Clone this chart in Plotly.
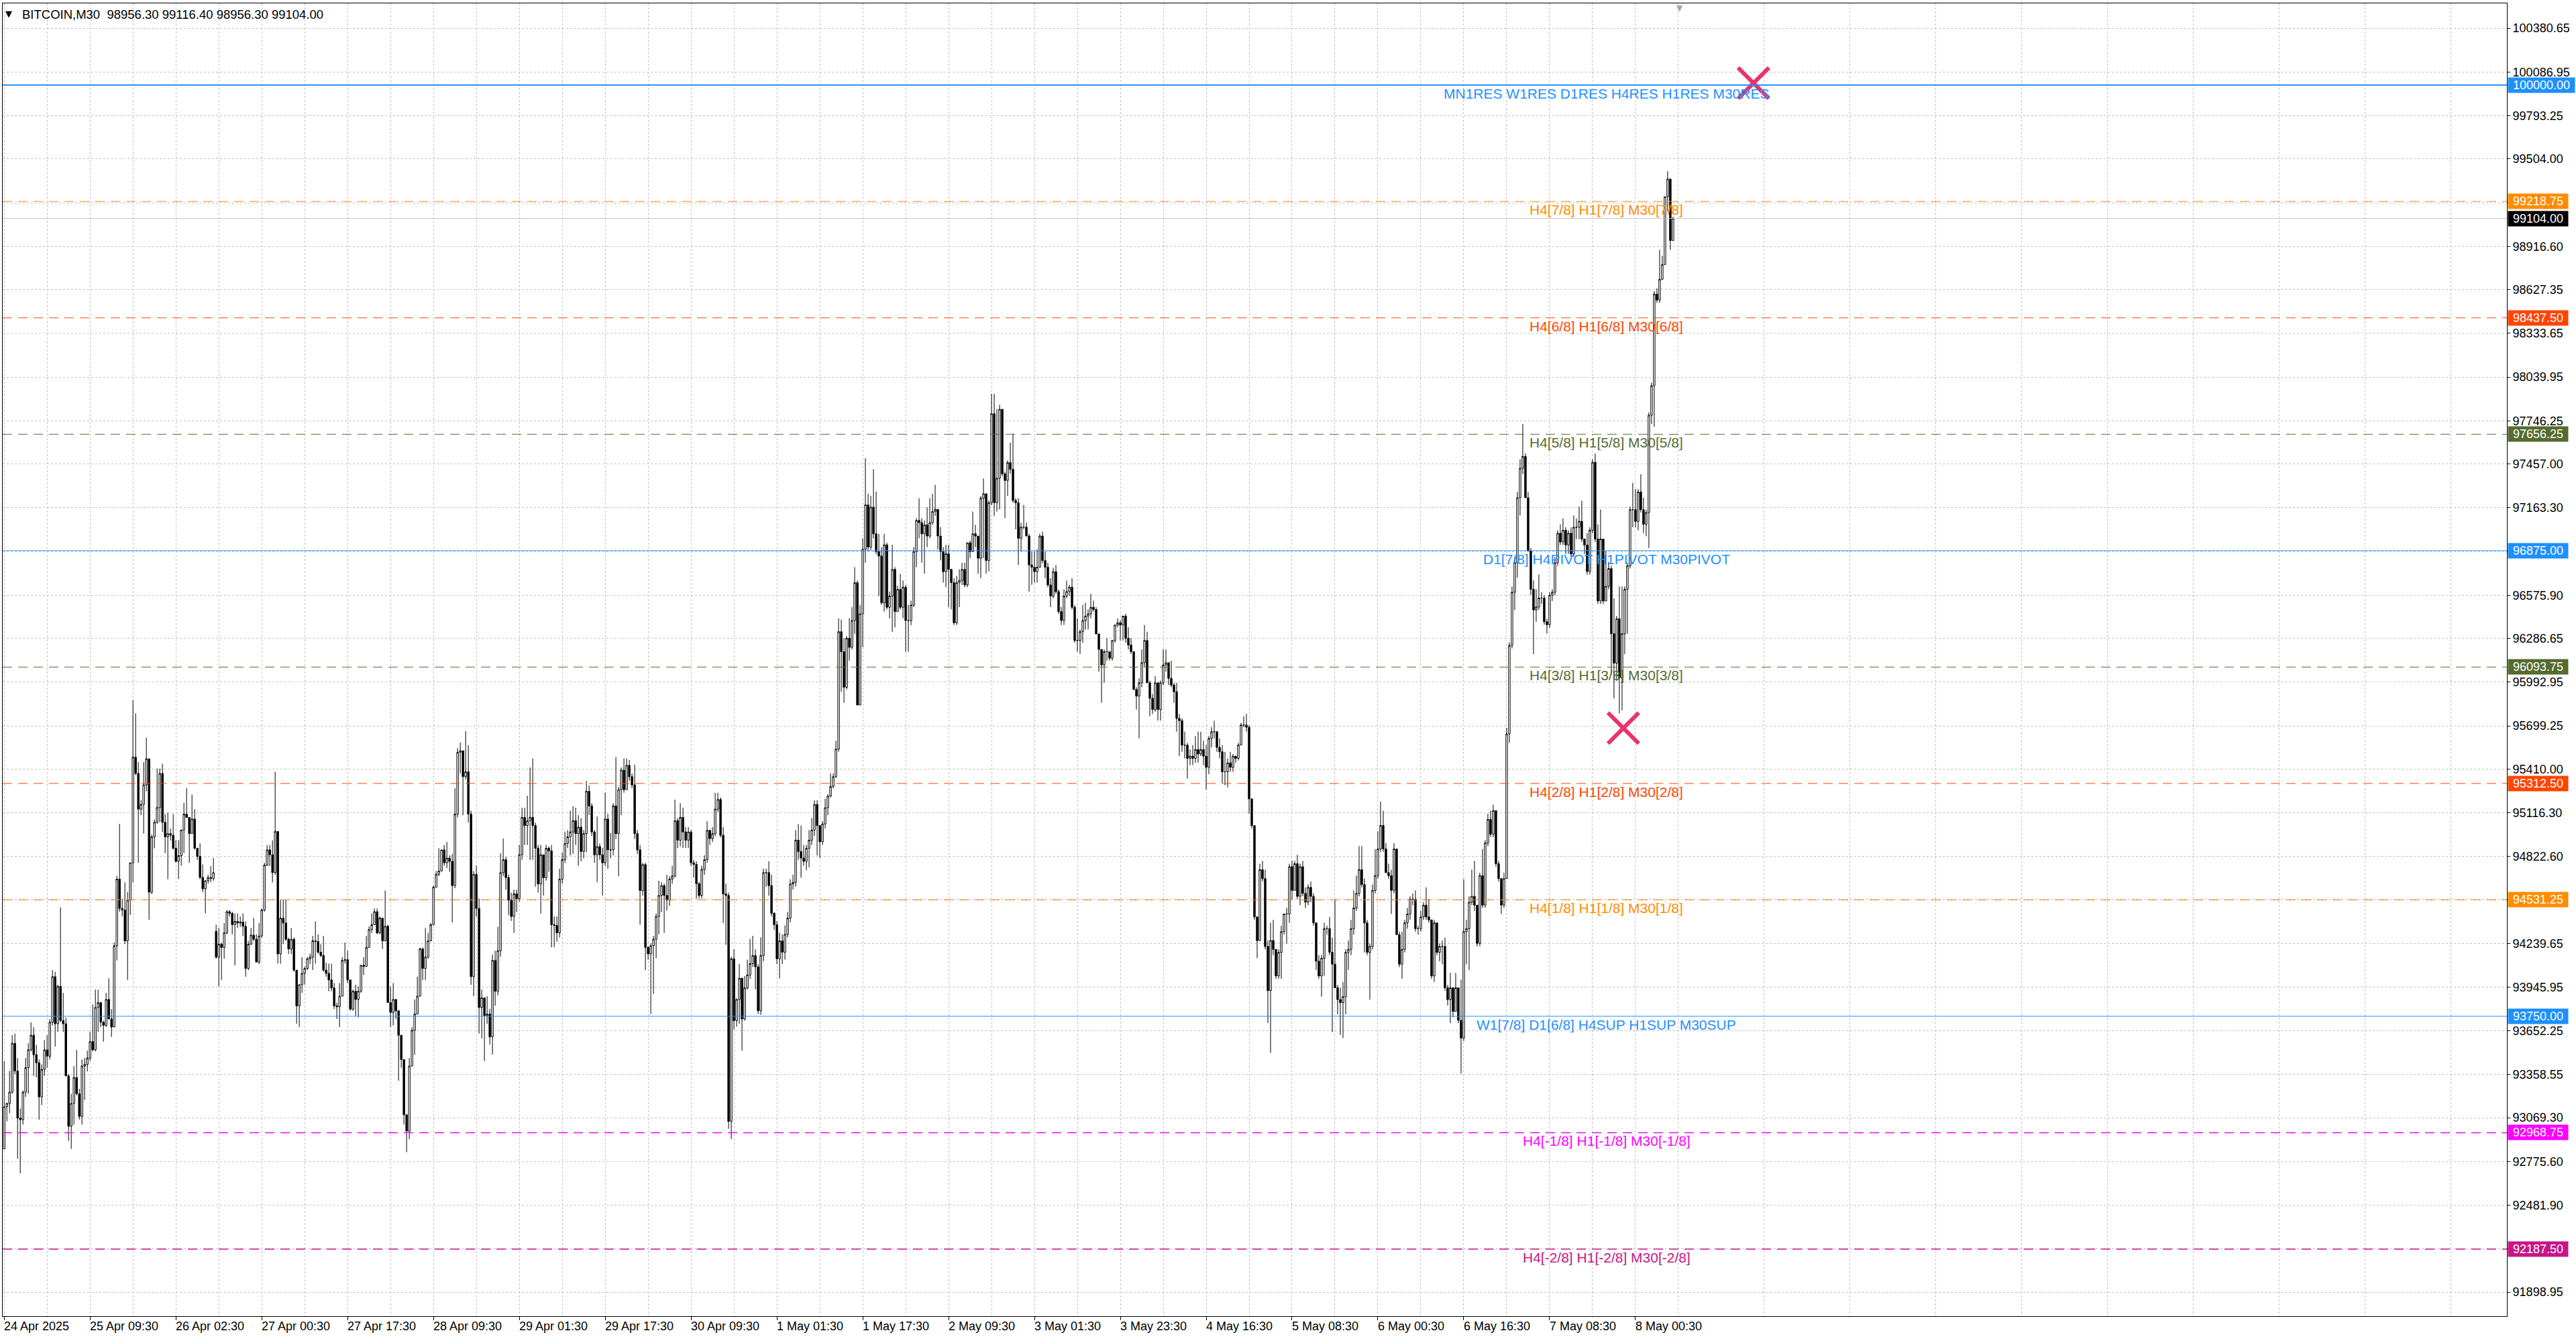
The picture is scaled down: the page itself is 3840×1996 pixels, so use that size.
import plotly.graph_objects as go

# ---------------- data (BITCOIN, M30) ----------------
first_open = 92860
gap_opens = {79: 94321}

closes = [
    93143, 93165, 93241, 93569, 93383, 93067, 93056, 93241, 93405, 93525,
    93623, 93492, 93438, 93209, 93394, 93525, 93482, 93710, 94016, 93700,
    93951, 93722, 93700, 93350, 93012, 93165, 93339, 93230, 93078, 93416,
    93427, 93470, 93580, 93525, 93809, 93842, 93710, 93689, 93863, 93732,
    93678, 94223, 94671, 94474, 94463, 94256, 94529, 94780, 95489, 95380,
    95140, 95172, 95303, 95478, 94583, 94954, 95052, 95151, 95380, 95052,
    94954, 94976, 94965, 94878, 94790, 94828, 95000, 95107, 95085, 94976,
    95074, 94878, 94823, 94682, 94605, 94660, 94681, 94675, 94714,
    94147, 94234, 94212, 94310, 94452, 94441, 94365, 94387, 94376, 94383,
    94354, 94071, 94234, 94295, 94267, 94114, 94289, 94463, 94765, 94867,
    94834, 94714, 94991, 94169, 94409, 94376, 94267, 94202, 94267, 94060,
    93820, 93962, 94038, 94071, 94136, 94147, 94256, 94252, 94180, 94158,
    94060, 94038, 93994, 93940, 93820, 93814, 93885, 94125, 94130, 93994,
    93798, 93918, 93863, 93918, 94092, 94085, 94212, 94332, 94365, 94452,
    94310, 94409, 94256, 94354, 93842, 93776, 93863, 93787, 93623, 93460,
    93089, 92980, 93416, 93656, 93765, 93885, 94202, 94071, 94147, 94256,
    # 26 Apr - 1 May
    94365, 94616, 94703, 94725, 94867, 94780, 94812, 94790, 94627, 95107,
    95522, 95532, 95358, 95391, 95107, 94016, 94703, 94474, 93809, 93874,
    93754, 93765, 93612, 94125, 93918, 94190, 94714, 94801, 94681, 94529,
    94420, 94572, 94540, 94834, 95085, 95030, 95063, 95085, 95030, 94878,
    94638, 94834, 94680, 94878, 94860, 94365, 94360, 94310, 94670, 94801,
    94910, 94954, 94987, 95063, 94976, 95020, 94856, 94976, 95260, 95162,
    94987, 94834, 94889, 94834, 94780, 95074, 94867, 94867, 95162, 94976,
    95271, 95402, 95271, 95434, 95358, 95303, 94976, 94867, 94594, 94768,
    94212, 94169, 94223, 94267, 94420, 94561, 94627, 94561, 94529, 94671,
    94692, 95063, 94932, 95085, 94987, 94932, 94987, 94780, 94769, 94640,
    94560, 94736, 94801, 94998, 94943, 94976, 95140, 95205, 94965, 94572,
    94561, 93045, 94136, 93721, 93863, 94005, 93732, 93940, 94027, 94103,
    94158, 94082, 93787, 94158, 94714, 94714, 94627, 94441, 94365, 94136,
    94256, 94180, 94300, 94409, 94638, 94649, 94932, 94856, 94812, 94790,
    94878, 94932, 95000, 95172, 95030, 94921, 95041, 95150, 95227, 95292,
    95358, 95543,
    # 1 May - 4 May
    96331, 96197, 95958, 96287, 96226, 96406, 96660, 95839, 96451, 96884,
    97182, 96899, 97167, 96988, 96869, 96839, 96525, 96914, 96495, 96570,
    96749, 96466, 96615, 96495, 96630, 96406, 96406, 96510, 96869, 97078,
    97063, 96988, 97048, 96973, 97063, 97137, 97152, 96973, 96869, 96734,
    96854, 96749, 96660, 96391, 96660, 96675, 96749, 96645, 96928, 96869,
    96988, 96973, 96824, 97227, 97257, 96809, 97197, 97794, 97197, 97361,
    97824, 97391, 97346, 97466, 97421, 97212, 97197, 96958, 97033, 97033,
    96973, 96779, 96764, 96734, 96764, 96973, 96809, 96764, 96645, 96570,
    96734, 96600, 96466, 96406, 96570, 96600, 96630, 96495, 96272, 96272,
    96331, 96406, 96436, 96451, 96495, 96480, 96316, 96212, 96108, 96197,
    96197, 96153, 96272, 96376, 96391, 96376, 96436, 96287, 96242, 96197,
    95943, 95899, 95988, 96123, 96272, 95988, 95884, 95809, 95988, 95809,
    95988, 96108, 96123, 96018, 95973, 95928, 95749, 95734, 95570, 95570,
    95481, 95496, 95481, 95540, 95510, 95540, 95496, 95421, 95615, 95660,
    95660, 95555, 95525, 95391, 95391, 95451, 95421, 95496, 95481, 95570,
    95705, 95705, 95690,
    # 4 May - 8 May
    95209, 95030, 94417, 94258, 94734, 94674, 94219, 93922, 94259, 94199,
    94021, 94179, 94318, 94437, 94437, 94754, 94595, 94774, 94555, 94754,
    94575, 94516, 94615, 94555, 94377, 94120, 94021, 94139, 94338, 94338,
    94180, 94100, 93941, 93862, 93842, 93882, 94179, 94199, 94338, 94477,
    94575, 94734, 94634, 94377, 94179, 94219, 94595, 94694, 94873, 95031,
    94873, 94714, 94694, 94595, 94873, 94298, 94100, 94199, 94377, 94437,
    94536, 94536, 94338, 94338, 94417, 94496, 94417, 94397, 94021, 94377,
    94179, 94219, 94219, 93941, 93862, 93941, 93783, 93941, 93723, 93604,
    94318, 94338, 94516, 94555, 94496, 94239, 94694, 94496, 94913, 95071,
    94972, 95130, 94774, 94674, 94496, 94674, 95645, 96239, 96596, 96794,
    97230, 97428, 97507, 97230, 96873, 96616, 96477, 96497, 96557, 96557,
    96398, 96378, 96576, 96596, 96794, 96992, 96933, 97012, 96913, 96992,
    96853, 97032, 97032, 97072, 96953, 96913, 96735, 97012, 97468, 96953,
    96537, 96953, 96537, 96636, 96755, 96318, 96120, 96418, 96021, 96318,
    96616, 96774, 97150, 97150, 97071, 97269, 97150, 97052, 97131, 97784,
    97982, 98597, 98557, 98696, 98795, 99250, 99369, 98956.30, 99104.00,
]

highs = [
    93449, 93170, 93383, 93623, 93634, 93470, 93132, 93252, 93470, 93569,
    93710, 93678, 93558, 93460, 93427, 93590, 93623, 93730, 94060, 94049,
    93962, 94481, 93907, 93740, 93361, 93230, 93416, 93525, 93263, 93460,
    93470, 93520, 93645, 93830, 93929, 93929, 93842, 93721, 93907, 94005,
    93798, 94245, 94692, 95041, 94540, 94649, 94583, 94780, 95871, 95783,
    95456, 95200, 95456, 95620, 95478, 94970, 95070, 95413, 95413, 95445,
    95107, 95118, 95010, 95107, 94932, 94932, 95000, 95183, 95282, 95085,
    95238, 95140, 94880, 94910, 94769, 94660, 94700, 94758, 94812,
    94365, 94343, 94245, 94376, 94463, 94463, 94452, 94441, 94441, 94420,
    94441, 94387, 94256, 94343, 94409, 94300, 94376, 94474, 94780, 94900,
    94900, 94932, 95391, 94878, 94529, 94529, 94529, 94278, 94343, 94278,
    94060, 93962, 94147, 94082, 94147, 94170, 94289, 94387, 94300, 94234,
    94289, 94110, 94103, 94103, 93973, 93842, 93973, 94147, 94245, 94190,
    93994, 93930, 93962, 93951, 94092, 94147, 94289, 94354, 94441, 94474,
    94474, 94420, 94409, 94594, 94365, 93950, 93973, 93863, 93787, 93623,
    93460, 93089, 93470, 93678, 93863, 94016, 94212, 94212, 94343, 94310,
    94376, 94627, 94725, 94878, 94867, 94900, 94920, 94830, 94840, 95280,
    95550, 95587, 95420, 95663, 95570, 95130, 94725, 94760, 94540, 93929,
    93874, 93885, 93800, 94165, 94190, 94350, 94845, 94943, 94820, 94700,
    94580, 94600, 94600, 94900, 95150, 95150, 95230, 95420, 95480, 95050,
    94900, 94900, 94760, 94900, 94890, 94900, 94420, 94420, 94740, 94850,
    94990, 95000, 95130, 95160, 95150, 95100, 95080, 95000, 95330, 95300,
    95180, 95000, 95090, 94910, 94880, 95250, 95110, 94980, 95180, 95490,
    95290, 95420, 95480, 95480, 95470, 95380, 95440, 95000, 94900, 94780,
    94780, 94220, 94240, 94290, 94440, 94660, 94650, 94640, 94700, 94690,
    94760, 95204, 95080, 95180, 95150, 95020, 95020, 95000, 94800, 94790,
    94650, 94760, 94830, 95060, 95000, 95020, 95250, 95250, 95220, 95020,
    94640, 94580, 94150, 94200, 93870, 94100, 94010, 94020, 94130, 94270,
    94290, 94200, 94100, 94280, 94740, 94740, 94790, 94700, 94450, 94390,
    94310, 94300, 94360, 94450, 94670, 94700, 95000, 95040, 95030, 94900,
    94900, 95000, 95080, 95200, 95200, 95000, 95060, 95210, 95240, 95380,
    95380, 95600,
    96421, 96412, 96287, 96302, 96421, 96496, 96764, 96675, 96511, 96958,
    97495, 97257, 97242, 97421, 97272, 96988, 96898, 96988, 96928, 96600,
    96914, 96764, 96640, 96720, 96675, 96645, 96511, 96540, 96899, 97093,
    97227, 97093, 97078, 97167, 97227, 97257, 97317, 97137, 97033, 96899,
    96914, 96914, 96750, 96690, 96705, 96750, 96794, 96794, 96928, 96943,
    97137, 97048, 96943, 97242, 97360, 97018, 97212, 97928, 97928, 97824,
    97854, 97764, 97406, 97481, 97600, 97660, 97227, 97227, 97063, 97182,
    97063, 96988, 96869, 96869, 96884, 96988, 97003, 96869, 96794, 96690,
    96760, 96779, 96615, 96496, 96615, 96675, 96645, 96690, 96510, 96421,
    96346, 96511, 96526, 96481, 96585, 96540, 96496, 96316, 96212, 96212,
    96287, 96197, 96272, 96376, 96421, 96406, 96436, 96451, 96361, 96287,
    96197, 95958, 96018, 96212, 96376, 96331, 96003, 95913, 96033, 95988,
    96003, 96212, 96212, 96123, 96137, 95988, 95988, 95779, 95749, 95660,
    95585, 95540, 95570, 95630, 95660, 95660, 95600, 95570, 95630, 95690,
    95734, 95660, 95615, 95570, 95525, 95481, 95525, 95510, 95496, 95585,
    95720, 95764, 95779,
    95704, 95209, 95030, 94417, 94774, 94793, 94734, 94258, 94378, 94397,
    94180, 94199, 94358, 94437, 94477, 94774, 94793, 94793, 94833, 94774,
    94793, 94615, 94635, 94655, 94575, 94377, 94160, 94160, 94378, 94358,
    94417, 94278, 94536, 93961, 93941, 93981, 94199, 94259, 94397, 94595,
    94694, 94892, 94892, 94674, 94397, 94239, 94635, 94872, 94991, 95190,
    95130, 94912, 94774, 94734, 94912, 94833, 94318, 94318, 94397, 94477,
    94555, 94575, 94595, 94358, 94457, 94516, 94615, 94536, 94397, 94397,
    94377, 94239, 94258, 94278, 93961, 94041, 93882, 94041, 93941, 93995,
    94670, 94398, 94555, 94734, 94793, 94496, 94714, 94872, 94932, 95110,
    95130, 95170, 95051, 94793, 94674, 94714, 95685, 96259, 96635, 96833,
    97269, 97488, 97725, 97527, 97269, 96893, 96675, 96616, 96715, 96596,
    96576, 96418, 96596, 96616, 96833, 97012, 97051, 97091, 97032, 97012,
    97032, 97111, 97091, 97170, 97210, 96952, 96992, 97032, 97488, 97527,
    97051, 97151, 96953, 96873, 96800, 96774, 96556, 96437, 96635, 96635,
    96635, 96794, 97170, 97329, 97289, 97289, 97388, 97230, 97151, 97804,
    98002, 98617, 98636, 98894, 98854, 99250, 99421, 99369, 99116.40,
]

lows = [
    92860, 93045, 93100, 93230, 93361, 92794, 92696, 93023, 93209, 93230,
    93514, 93350, 93340, 93056, 93154, 93350, 93405, 93460, 93689, 93547,
    93645, 93711, 93645, 93350, 92914, 92860, 93023, 93220, 93056, 93023,
    93190, 93380, 93450, 93514, 93514, 93645, 93678, 93580, 93678, 93732,
    93612, 93689, 94125, 94452, 94420, 94234, 93994, 94430, 94649, 95369,
    94780, 95100, 94976, 95260, 94398, 94570, 94878, 95041, 95052, 94987,
    94845, 94670, 94930, 94870, 94780, 94670, 94760, 94845, 95080, 94780,
    94976, 94870, 94800, 94670, 94583, 94441, 94640, 94649, 94660,
    94136, 93951, 93994, 94136, 94300, 94420, 94300, 94092, 94343, 94350,
    94289, 94016, 94060, 94230, 94256, 94114, 94100, 94278, 94452, 94758,
    94758, 94649, 94700, 94103, 94103, 94234, 94256, 94169, 94169, 94049,
    93700, 93678, 93907, 93962, 94060, 94100, 94060, 94103, 94169, 94147,
    94049, 94016, 93918, 93918, 93798, 93732, 93678, 93885, 94103, 93973,
    93787, 93787, 93754, 93743, 93907, 94027, 94082, 94212, 94310, 94365,
    94300, 94300, 94202, 94343, 93842, 93678, 93689, 93732, 93318, 93405,
    93023, 92838, 92925, 93416, 93492, 93765, 93885, 93994, 93994, 94136,
    94256, 94365, 94616, 94690, 94725, 94760, 94745, 94720, 94380, 94610,
    95085, 95380, 95100, 95340, 95050, 93961, 93885, 94420, 93634, 93601,
    93449, 93700, 93560, 93493, 93820, 93890, 94150, 94690, 94600, 94430,
    94390, 94310, 94450, 94520, 94800, 94900, 94900, 94800, 94800, 94620,
    94580, 94440, 94560, 94660, 94720, 94213, 94213, 94250, 94280, 94640,
    94780, 94880, 94830, 94840, 94900, 94760, 94790, 94810, 94850, 95100,
    94960, 94780, 94650, 94800, 94560, 94760, 94740, 94810, 94830, 94940,
    94690, 95100, 95250, 95400, 95330, 95280, 94940, 94840, 94365, 94560,
    94060, 94130, 93765, 93900, 94140, 94300, 94450, 94310, 94460, 94490,
    94640, 94680, 94880, 94890, 94880, 94880, 94880, 94760, 94680, 94540,
    94540, 94540, 94700, 94780, 94900, 94920, 94960, 95120, 94950, 94376,
    94230, 92995, 92926, 93660, 93680, 93700, 93520, 93720, 93930, 94000,
    94080, 93930, 93765, 93760, 94120, 94620, 94560, 94420, 94330, 94100,
    94005, 94100, 94130, 94280, 94380, 94600, 94620, 94800, 94680, 94760,
    94730, 94750, 94900, 94960, 94830, 94813, 94900, 95010, 95100, 95220,
    95280, 95350,
    95526, 95928, 95854, 95943, 96137, 96212, 96317, 95839, 95839, 96227,
    96794, 96870, 96880, 96958, 96850, 96570, 96510, 96466, 96480, 96420,
    96331, 96361, 96540, 96480, 96421, 96197, 96197, 96375, 96496, 96764,
    96958, 96794, 96720, 96899, 96958, 97048, 97108, 96884, 96809, 96660,
    96630, 96495, 96481, 96376, 96376, 96496, 96645, 96630, 96630, 96824,
    96899, 96899, 96720, 96690, 96824, 96720, 96735, 97180, 97107, 97137,
    97152, 97376, 97093, 97242, 97391, 97197, 97018, 96779, 96869, 97018,
    96973, 96600, 96645, 96660, 96660, 96764, 96790, 96690, 96630, 96496,
    96555, 96585, 96451, 96376, 96376, 96555, 96570, 96481, 96257, 96197,
    96182, 96257, 96346, 96346, 96421, 96466, 96316, 96063, 95854, 95988,
    96137, 96137, 96137, 96257, 96361, 96272, 96272, 96257, 96212, 96182,
    95943, 95809, 95615, 95958, 96092, 95988, 95764, 95779, 95794, 95735,
    95735, 95973, 96063, 95973, 95958, 95854, 95660, 95496, 95525, 95481,
    95346, 95436, 95436, 95451, 95451, 95496, 95436, 95271, 95376, 95555,
    95615, 95525, 95481, 95316, 95301, 95286, 95391, 95391, 95451, 95466,
    95570, 95690, 95660,
    95110, 95011, 94397, 94140, 94258, 94655, 94199, 93704, 93505, 94160,
    94001, 94001, 94001, 94298, 94239, 94378, 94536, 94595, 94536, 94496,
    94555, 94477, 94496, 94516, 94358, 94061, 94001, 93882, 94021, 94298,
    94160, 93644, 93941, 93763, 93624, 93604, 93763, 94061, 94160, 94298,
    94457, 94555, 94615, 94179, 94160, 93862, 94199, 94575, 94674, 94853,
    94853, 94714, 94674, 94437, 94575, 94298, 94080, 94001, 94179, 94338,
    94397, 94496, 94318, 94298, 94318, 94397, 94397, 94378, 94001, 93981,
    94160, 94120, 94100, 93922, 93823, 93704, 93743, 93783, 93704, 93367,
    93584, 94100, 94061, 94496, 94457, 94219, 94219, 94477, 94477, 94892,
    94952, 94952, 94754, 94655, 94437, 94477, 94674, 95586, 96219, 96477,
    96694, 97111, 97389, 97230, 96873, 96576, 96180, 96398, 96477, 96517,
    96378, 96318, 96358, 96537, 96576, 96774, 96913, 96913, 96853, 96853,
    96834, 96834, 96952, 96952, 96933, 96853, 96714, 96714, 96992, 96933,
    96517, 96517, 96517, 96616, 96616, 96041, 95883, 96001, 95783, 95803,
    96180, 96318, 96755, 97032, 97032, 97012, 97131, 96992, 96972, 96893,
    97725, 97705, 98538, 98538, 98696, 98795, 99151, 98894, 98956.30,
]

label_bars = [0, 32, 64, 96, 128, 160, 192, 224, 256, 288,
              320, 352, 384, 416, 448, 480, 512, 544, 576, 608]
time_labels = ["24 Apr 2025", "25 Apr 09:30", "26 Apr 02:30", "27 Apr 00:30",
               "27 Apr 17:30", "28 Apr 09:30", "29 Apr 01:30", "29 Apr 17:30",
               "30 Apr 09:30", "1 May 01:30", "1 May 17:30", "2 May 09:30",
               "3 May 01:30", "3 May 23:30", "4 May 16:30", "5 May 08:30",
               "6 May 00:30", "6 May 16:30", "7 May 08:30", "8 May 00:30"]

price_ticks = [100380.65, 100086.95, 99793.25, 99504.00, 99210.30, 98916.60,
               98627.35, 98333.65, 98039.95, 97746.25, 97457.00, 97163.30,
               96869.60, 96575.90, 96286.65, 95992.95, 95699.25, 95410.00,
               95116.30, 94822.60, 94533.35, 94239.65, 93945.95, 93652.25,
               93358.55, 93069.30, 92775.60, 92481.90, 92188.20, 91898.95]

levels = [100000.00, 99218.75, 98437.50, 97656.25, 96875.00, 96093.75,
          95312.50, 94531.25, 93750.00, 92968.75, 92187.50]
level_texts = ["MN1RES W1RES D1RES H4RES H1RES M30RES",
               "H4[7/8] H1[7/8] M30[7/8]",
               "H4[6/8] H1[6/8] M30[6/8]",
               "H4[5/8] H1[5/8] M30[5/8]",
               "D1[7/8] H4PIVOT H1PIVOT M30PIVOT",
               "H4[3/8] H1[3/8] M30[3/8]",
               "H4[2/8] H1[2/8] M30[2/8]",
               "H4[1/8] H1[1/8] M30[1/8]",
               "W1[7/8] D1[6/8] H4SUP H1SUP M30SUP",
               "H4[-1/8] H1[-1/8] M30[-1/8]",
               "H4[-2/8] H1[-2/8] M30[-2/8]"]

cross_bars = [652, 603.5]
cross_prices = [100013, 95684]

# ---------------- styles ----------------
BLUE, ORANGE, RED, OLIVE = "#1E90FF", "#FF8C00", "#FF4500", "#556B2F"
level_colors = [BLUE, ORANGE, RED, OLIVE, BLUE, OLIVE, RED, ORANGE, BLUE,
                "#FF00FF", "#C71585"]
level_dash = ["solid", "14px,9px", "14px,9px", "14px,9px", "solid", "14px,9px",
              "14px,9px", "14px,9px", "solid", "14px,9px", "14px,9px"]
level_width = [2, 1, 1, 1, 1, 1, 1, 1, 1, 1.5, 1.5]
FONT = "Liberation Sans"
GRID = "#C0C0C0"
W, H = 3840, 1996
label_bar = 597.2          # where the level captions are centred

# opens: previous close unless the chart shows a gap
opens = []
prev = first_open
for i, c in enumerate(closes):
    opens.append(gap_opens.get(i, prev))
    prev = c
hi = [max(h, o, c) for h, o, c in zip(highs, opens, closes)]
lo = [min(l, o, c) for l, o, c in zip(lows, opens, closes)]
bars = list(range(len(closes)))

fig = go.Figure()
fig.add_trace(go.Candlestick(
    x=bars, open=opens, high=hi, low=lo, close=closes,
    increasing=dict(line=dict(color="black", width=1), fillcolor="white"),
    decreasing=dict(line=dict(color="black", width=1), fillcolor="black"),
    whiskerwidth=0, hoverinfo="skip"))

fig.add_trace(go.Scatter(
    x=cross_bars, y=cross_prices, mode="markers", hoverinfo="skip",
    marker=dict(symbol="x-thin", size=46, line=dict(width=6, color="#E8336B"))))

# level lines + captions
for lv, txt, col, dash, wd in zip(levels, level_texts, level_colors, level_dash, level_width):
    fig.add_shape(type="line", xref="paper", x0=0, x1=1, yref="y", y0=lv, y1=lv,
                  line=dict(color=col, width=wd, dash=dash))
    fig.add_annotation(x=label_bar, y=lv, text=txt, showarrow=False,
                       xanchor="center", yanchor="top", yshift=1,
                       font=dict(family=FONT, size=21, color=col))

# last price line
last_price = closes[-1]
fig.add_shape(type="line", xref="paper", x0=0, x1=1, yref="y", y0=last_price, y1=last_price,
              line=dict(color=GRID, width=1))

# price boxes on the right scale
def price_box(value, bg):
    s = f"{value:.2f}"
    fig.add_annotation(xref="paper", x=1, xanchor="left", xshift=1, y=value, yanchor="middle",
                       text=s, showarrow=False, bgcolor=bg, borderpad=0,
                       width=(len(s) - 1) * 0.556 * 18 + 0.278 * 18 + 14, height=22,
                       font=dict(family=FONT, size=18, color="white"))

for lv, col in zip(levels, level_colors):
    price_box(lv, col)
price_box(last_price, "black")

# time labels (left-aligned at their tick like MT4)
for b, t in zip(label_bars, time_labels):
    fig.add_annotation(x=b, xanchor="left", xshift=-2, yref="paper", y=0, yanchor="top",
                       yshift=-3, text=t, showarrow=False,
                       font=dict(family=FONT, size=18, color="black"))

# header
fig.add_annotation(xref="paper", yref="paper", x=0, y=1, xanchor="left", yanchor="top",
                   xshift=2, yshift=-6, text="▼", showarrow=False,
                   font=dict(family="DejaVu Sans", size=13, color="black"))
fig.add_annotation(xref="paper", yref="paper", x=0, y=1, xanchor="left", yanchor="top",
                   xshift=27, yshift=-4, showarrow=False,
                   text=f"BITCOIN,M30\u00a0 {opens[-1]:.2f} {hi[-1]:.2f} {lo[-1]:.2f} {closes[-1]:.2f}",
                   font=dict(family=FONT, size=18.5, color="black"))
# chart shift marker
fig.add_annotation(x=len(closes) + 1.5, yref="paper", y=1, yanchor="top", yshift=2,
                   text="▼", showarrow=False,
                   font=dict(family="DejaVu Sans", size=12, color="#A8A8A8"))

fig.update_layout(
    width=W, height=H, margin=dict(l=4, r=103, t=5, b=34),
    paper_bgcolor="white", plot_bgcolor="white", showlegend=False,
    font=dict(family=FONT, size=18, color="black"), boxgap=0.15,
)
fig.update_xaxes(
    range=[-0.55, 932.8], rangeslider_visible=False, zeroline=False,
    showline=True, mirror=True, linecolor="black", linewidth=1,
    tickvals=label_bars, ticks="outside", ticklen=5, tickcolor="black",
    showticklabels=False, showgrid=True, gridcolor=GRID, griddash="3px,3px", gridwidth=1,
    minor=dict(tickvals=list(range(16, 933, 32)), ticks="", showgrid=True,
               gridcolor=GRID, griddash="3px,3px", gridwidth=1),
)
fig.update_yaxes(
    range=[91737.4, 100548], side="right", zeroline=False,
    tickvals=price_ticks, ticktext=[f"{v:.2f}" for v in price_ticks],
    ticks="outside", ticklen=4, tickcolor="black",
    showline=True, mirror=True, linecolor="black", linewidth=1,
    showgrid=True, gridcolor=GRID, griddash="3px,3px", gridwidth=1,
    tickfont=dict(family=FONT, size=18, color="black"),
)

fig.write_html("out.html", config={"displayModeBar": False},
               post_script="document.body.style.margin='0';document.body.style.overflow='hidden';")
